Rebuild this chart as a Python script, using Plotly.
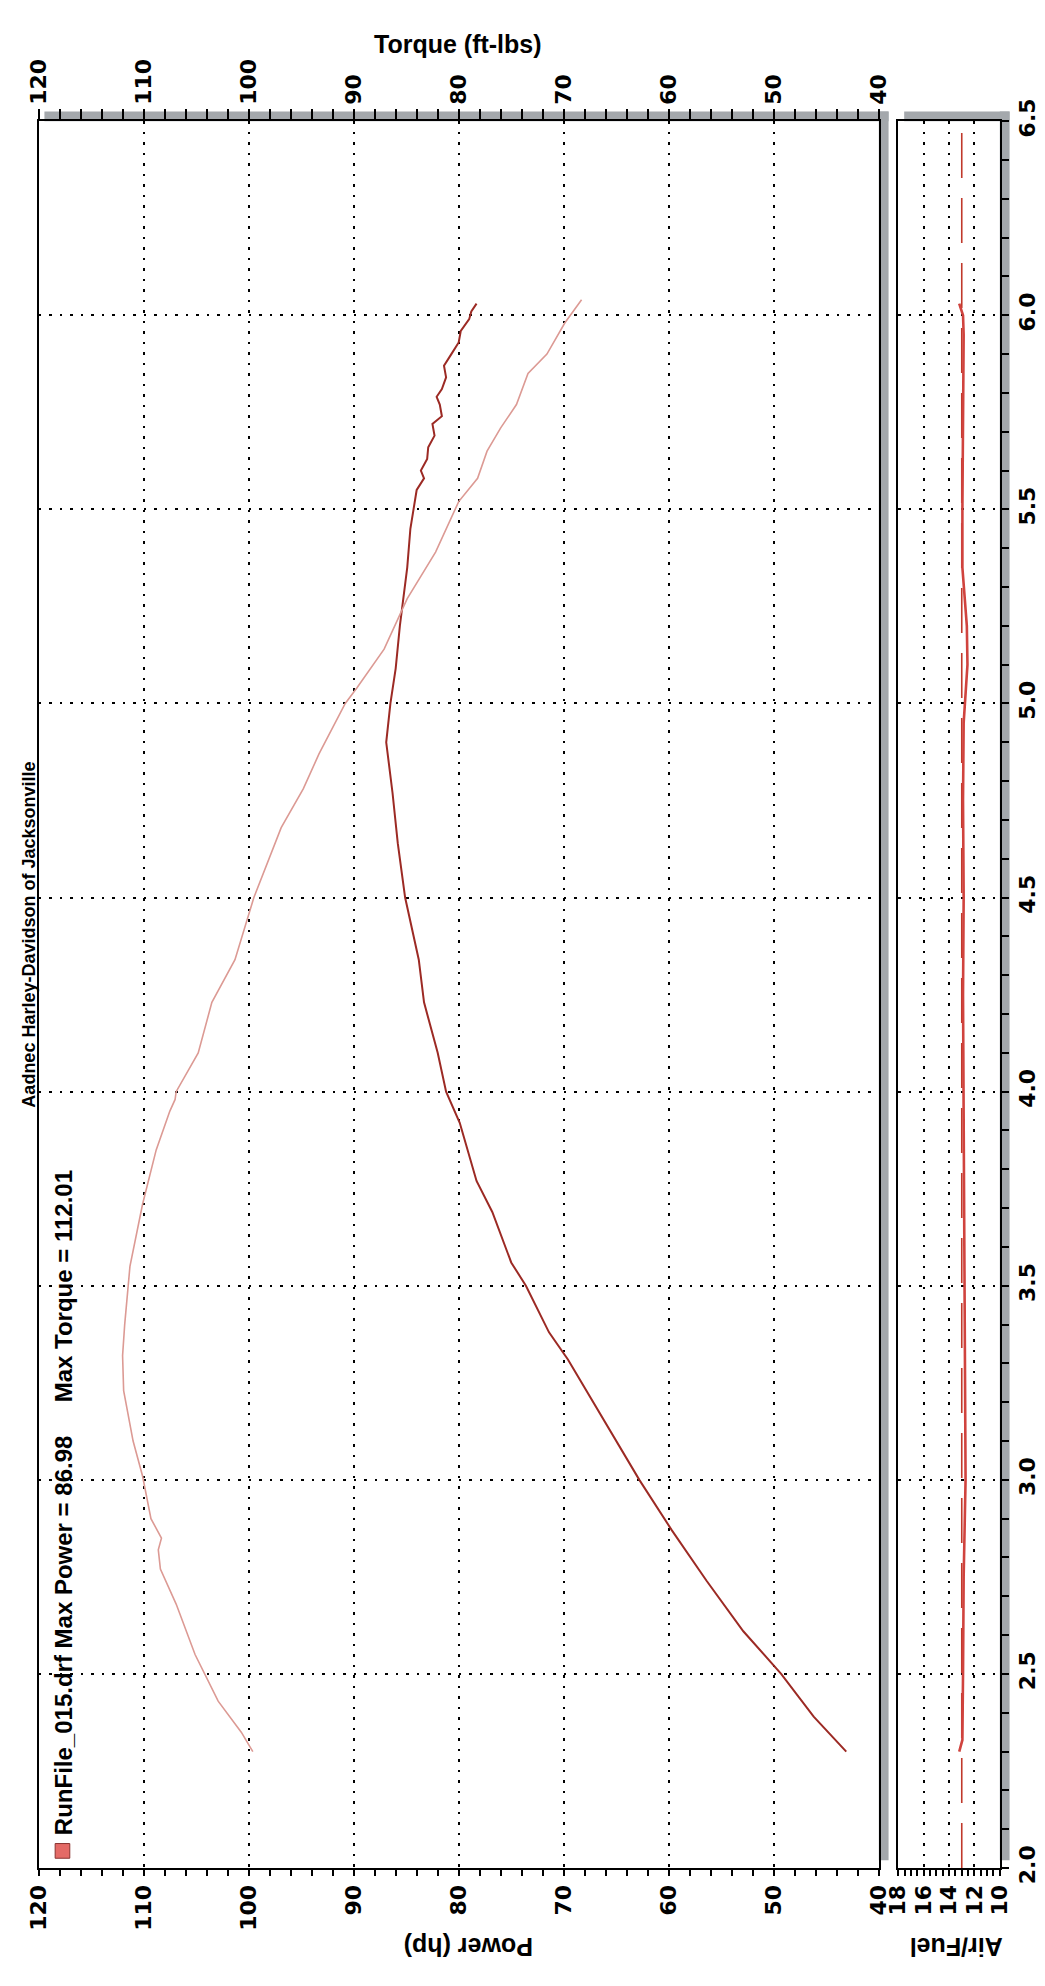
import plotly.graph_objects as go

# page is 1045x1986; the html body keeps an 8px margin, so the figure is 8px smaller
PAGE_W, PAGE_H = 1045, 1986
OFF = 8
W, H = PAGE_W - OFF, PAGE_H - OFF

# ---------------- data ----------------
rpm_power = [2.30, 2.39, 2.50, 2.61, 2.74, 2.87, 3.00, 3.15, 3.31, 3.38, 3.50, 3.56,
             3.69, 3.77, 3.92, 4.00, 4.10, 4.23, 4.34, 4.50, 4.64, 4.77, 4.90, 5.00,
             5.09, 5.20, 5.27, 5.35, 5.45, 5.52, 5.55, 5.58, 5.60, 5.63, 5.66, 5.69,
             5.72, 5.74, 5.77, 5.79, 5.81, 5.84, 5.87, 5.90, 5.93, 5.96, 5.99, 6.01, 6.03]
power_hp = [43.1, 46.2, 49.3, 52.9, 56.4, 59.7, 62.8, 66.1, 69.6, 71.4, 73.6, 75.0,
            76.8, 78.3, 79.9, 81.2, 82.0, 83.3, 83.8, 85.1, 85.8, 86.3, 86.9, 86.5,
            86.0, 85.6, 85.3, 84.9, 84.6, 84.2, 84.0, 83.3, 83.6, 83.0, 82.9, 82.3,
            82.5, 81.6, 81.8, 82.1, 81.6, 81.2, 81.4, 80.7, 80.0, 79.8, 79.0, 78.8, 78.3]

rpm_torque = [2.30, 2.35, 2.43, 2.55, 2.68, 2.77, 2.82, 2.85, 2.90, 3.01, 3.10, 3.23,
              3.32, 3.40, 3.55, 3.71, 3.85, 3.95, 3.98, 4.00, 4.10, 4.23, 4.34, 4.50,
              4.68, 4.78, 4.87, 5.00, 5.04, 5.14, 5.27, 5.39, 5.52, 5.58, 5.65, 5.71,
              5.77, 5.85, 5.90, 5.98, 6.04]
torque_ftlb = [99.6, 100.7, 102.9, 105.1, 106.9, 108.4, 108.6, 108.3, 109.3, 110.1, 111.0, 111.9,
               112.0, 111.8, 111.3, 110.1, 108.8, 107.5, 107.0, 106.9, 104.8, 103.5, 101.3, 99.5,
               96.9, 94.8, 93.3, 90.8, 89.7, 87.1, 84.9, 82.2, 80.0, 78.2, 77.3, 76.0,
               74.5, 73.4, 71.6, 69.9, 68.3]

rpm_afr = [2.30, 2.33, 2.50, 2.75, 3.00, 3.25, 3.50, 3.75, 4.00, 4.25, 4.50, 4.75,
           4.95, 5.00, 5.10, 5.20, 5.28, 5.35, 5.50, 5.75, 5.95, 6.00, 6.03]
afr = [13.2, 12.95, 12.9, 12.85, 12.7, 12.75, 12.8, 12.85, 12.9, 12.9, 12.85, 12.9,
       12.85, 12.75, 12.55, 12.6, 12.8, 12.95, 12.95, 12.9, 12.85, 12.9, 13.2]

afr_target_rpm = [2.0, 6.5]
afr_target = [13.0, 13.0]

power_range = [120, 40]
torque_range = [120, 40]
afr_range = [18, 10]
rpm_range = [2.0, 6.5]

title_text = "Aadnec Harley-Davidson of Jacksonville"
legend_text = "RunFile_015.drf Max Power = 86.98&nbsp;&nbsp;&nbsp;&nbsp;&nbsp;Max Torque = 112.01"

# ---------------- layout helpers (page pixel -> paper) ----------------
def px(x):
    return (x - OFF) / W

def py(y):
    return 1 - (y - OFF) / H

main_x = [px(26), px(887)]
afr_x = [px(907), px(1011)]
plot_y = [py(1882), py(100)]

tick_font = dict(family="DejaVu Sans", size=22, color="black", weight="bold")
title_font = dict(family="Liberation Sans", size=25, color="black", weight="bold")
GRID_DASH = "2.5px,8px"

fig = go.Figure()

fig.add_trace(go.Scatter(x=afr_target, y=afr_target_rpm, xaxis="x2", yaxis="y2", mode="lines",
                         line=dict(color="#c0392b", width=1.6, dash="45px,20px"), showlegend=False))
fig.add_trace(go.Scatter(x=afr, y=rpm_afr, xaxis="x2", yaxis="y2", mode="lines",
                         line=dict(color="#d0433e", width=2.6), showlegend=False))
fig.add_trace(go.Scatter(x=torque_ftlb, y=rpm_torque, xaxis="x3", yaxis="y", mode="lines",
                         line=dict(color="#dc9a94", width=1.6), showlegend=False))
fig.add_trace(go.Scatter(x=power_hp, y=rpm_power, xaxis="x", yaxis="y", mode="lines",
                         line=dict(color="#9c2a24", width=2), showlegend=False))

common_grid = dict(showgrid=True, gridcolor="black", gridwidth=2, griddash=GRID_DASH, zeroline=False)
tk = dict(tickwidth=1.5, tickcolor="black")

fig.update_layout(
    width=W, height=H,
    margin=dict(l=0, r=0, t=0, b=0),
    paper_bgcolor="white", plot_bgcolor="white",
    showlegend=False,
    xaxis=dict(domain=main_x, anchor="y", range=power_range, dtick=10, tick0=40,
               side="bottom", tickangle=-90, tickfont=tick_font,
               ticks="outside", ticklen=6, **tk,
               minor=dict(dtick=2, ticks="outside", ticklen=6, showgrid=False, **tk),
               showline=True, linecolor="black", linewidth=2, **common_grid),
    xaxis3=dict(overlaying="x", anchor="y", range=torque_range, dtick=10, tick0=40,
                side="top", tickangle=-90, tickfont=tick_font,
                ticks="outside", ticklen=10, **tk,
                minor=dict(dtick=2, ticks="outside", ticklen=10, **tk),
                showline=True, linecolor="black", linewidth=2, showgrid=False, zeroline=False),
    xaxis4=dict(overlaying="x", anchor="y", range=power_range, dtick=10, tick0=40, side="bottom",
                showticklabels=False, ticks="inside", ticklen=5, **tk,
                minor=dict(dtick=2, ticks="inside", ticklen=5, **tk),
                showgrid=False, zeroline=False),
    xaxis5=dict(overlaying="x", anchor="y", range=torque_range, dtick=10, tick0=40, side="top",
                showticklabels=False, ticks="inside", ticklen=5, **tk,
                minor=dict(dtick=2, ticks="inside", ticklen=5, **tk),
                showgrid=False, zeroline=False),
    yaxis=dict(domain=plot_y, anchor="x", range=rpm_range, dtick=0.5, tick0=2.0,
               showticklabels=False, ticks="", showline=True, mirror=True,
               linecolor="black", linewidth=2, **common_grid),
    xaxis2=dict(domain=afr_x, anchor="y2", range=afr_range, dtick=2, tick0=10,
                side="bottom", tickangle=-90, tickfont=tick_font,
                ticks="outside", ticklen=6, **tk,
                minor=dict(dtick=0.5, ticks="outside", ticklen=6, showgrid=False, **tk),
                showline=True, mirror=True, linecolor="black", linewidth=2, **common_grid),
    yaxis2=dict(domain=plot_y, anchor="x2", matches="y", range=rpm_range, dtick=0.5, tick0=2.0,
                side="right", tickangle=-90, tickformat=".1f", tickfont=tick_font,
                ticks="outside", ticklen=7, **tk,
                minor=dict(dtick=0.1, ticks="outside", ticklen=7, showgrid=False, **tk),
                showline=True, mirror=True, linecolor="black", linewidth=2, **common_grid),
    yaxis3=dict(overlaying="y2", anchor="x2", range=rpm_range, dtick=0.5, tick0=2.0, side="right",
                showticklabels=False, ticks="inside", ticklen=7, **tk,
                minor=dict(dtick=0.1, ticks="inside", ticklen=7, **tk),
                showgrid=False, zeroline=False),
)

# gray drop-shadow bands (top and right of each panel)
band = "#a4a8ac"
shapes = []
for x0, x1 in [(26, 887), (907, 1011)]:
    shapes.append(dict(type="rect", xref="paper", yref="paper", layer="below",
                       x0=px(x0 + 6), x1=px(x1 + 10), y0=py(100), y1=py(90),
                       fillcolor=band, line=dict(width=0)))
    shapes.append(dict(type="rect", xref="paper", yref="paper", layer="below",
                       x0=px(x1), x1=px(x1 + 10), y0=py(1874), y1=py(90),
                       fillcolor=band, line=dict(width=0)))
# legend swatch
shapes.append(dict(type="rect", xref="paper", yref="paper",
                   x0=px(43), x1=px(58), y0=py(1872), y1=py(1857),
                   fillcolor="#e46a66", line=dict(color="#8a3330", width=1)))
fig.update_layout(shapes=shapes)

annotations = [
    dict(text="Torque (ft-lbs)", x=px(456), y=py(21), xref="paper", yref="paper",
         showarrow=False, font=title_font, xanchor="center", yanchor="middle"),
    dict(text="Power (hp)", x=px(466), y=py(1962), xref="paper", yref="paper", textangle=180,
         showarrow=False, font=title_font, xanchor="center", yanchor="middle"),
    dict(text="Air/Fuel", x=px(966), y=py(1962), xref="paper", yref="paper", textangle=180,
         showarrow=False, font=title_font, xanchor="center", yanchor="middle"),
    dict(text=title_text, x=px(16), y=py(930), xref="paper", yref="paper", textangle=-90,
         showarrow=False, font=dict(family="Liberation Sans", size=18, color="black", weight="bold"),
         xanchor="center", yanchor="middle"),
    dict(text=legend_text, x=px(51), y=py(1850), xref="paper", yref="paper", textangle=-90,
         showarrow=False, font=dict(family="Liberation Sans", size=24, color="black", weight="bold"),
         xanchor="center", yanchor="bottom"),
]
fig.update_layout(annotations=annotations)

fig.write_html("out.html")
